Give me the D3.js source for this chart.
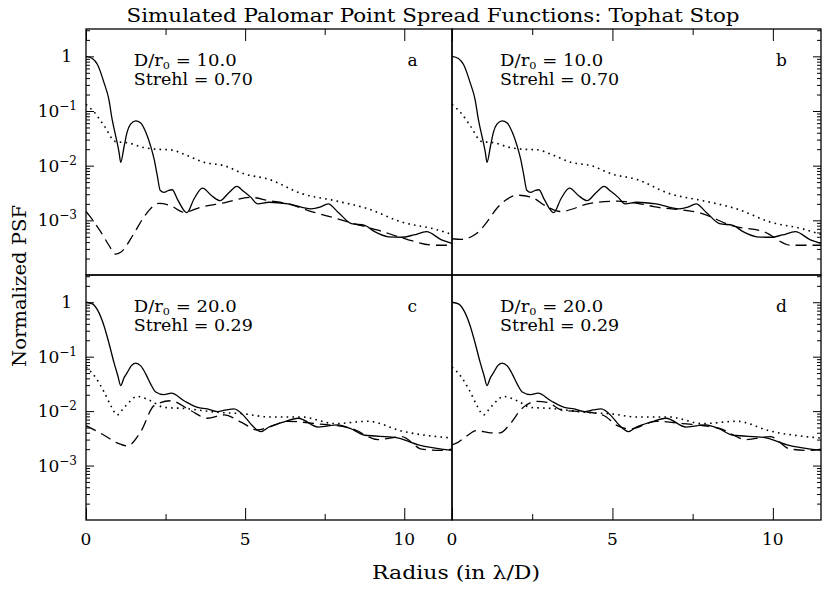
<!DOCTYPE html>
<html>
<head>
<meta charset="utf-8">
<script src="https://cdn.jsdelivr.net/npm/d3@7"></script>
<style>
  body { margin: 0; background: #fff; }
  text { font-family: "DejaVu Serif", serif; fill: #000; }
</style>
</head>
<body>
<svg id="chart" width="825" height="591"></svg>
<script>
// radius in lambda/D, PSF normalised to the diffraction peak
const rSolid10   = [0, 0.2, 0.36, 0.57, 0.72, 0.82, 0.93, 1.04, 1.09, 1.2, 1.29, 1.4, 1.56, 1.72, 1.88, 2.03, 2.14, 2.24, 2.33, 2.45, 2.6, 2.71, 2.87, 3.17, 3.4, 3.66, 3.95, 4.21, 4.48, 4.74, 4.95, 5.18, 5.39, 5.75, 6.35, 7.08, 7.35, 7.61, 7.92, 8.34, 8.76, 9.07, 9.5, 9.92, 10.3, 10.7, 11.17, 11.5];
const psfSolid10 = [1, 0.912, 0.708, 0.324, 0.162, 0.0708, 0.0355, 0.0174, 0.0115, 0.0229, 0.0407, 0.0575, 0.0661, 0.0603, 0.0407, 0.0229, 0.0132, 0.0066, 0.00355, 0.00324, 0.00355, 0.00363, 0.00245, 0.00138, 0.00251, 0.00389, 0.00282, 0.00229, 0.00316, 0.00417, 0.00339, 0.00263, 0.0020, 0.00214, 0.0020, 0.00162, 0.00174, 0.0020, 0.00141, 0.00087, 0.00081, 0.00062, 0.0005, 0.00049, 0.00054, 0.00062, 0.00044, 0.00038];

const rDotted10   = [0, 0.3, 0.57, 0.93, 1.3, 1.82, 2.2, 2.66, 3.08, 3.71, 4.34, 4.97, 5.75, 6.77, 7.82, 8.87, 9.92, 10.96, 11.5];
const psfDotted10 = [0.132, 0.0891, 0.0537, 0.0275, 0.0263, 0.0214, 0.020, 0.0195, 0.0162, 0.0115, 0.010, 0.00708, 0.00562, 0.00309, 0.00229, 0.00162, 0.00093, 0.00069, 0.00055];

const rDashedA   = [0, 0.1, 0.46, 0.72, 0.93, 1.09, 1.51, 1.82, 2.3, 2.66, 3.08, 3.61, 4.34, 5.18, 5.75, 6.35, 7.08, 7.82, 8.55, 9.18, 10.13, 10.96, 11.5];
const psfDashedA = [0.00145, 0.00123, 0.00062, 0.00035, 0.00024, 0.00026, 0.00058, 0.00115, 0.00204, 0.00186, 0.00141, 0.00174, 0.00209, 0.00263, 0.00229, 0.0020, 0.00145, 0.0011, 0.00083, 0.00066, 0.00044, 0.00035, 0.00035];

const rDashedB   = [0, 0.3, 0.6, 0.87, 1.1, 1.4, 1.7, 2.02, 2.44, 2.96, 3.37, 4.31, 5.15, 5.97, 6.29, 7.75, 8.78, 9.72, 10.56, 11.5];
const psfDashedB = [0.00046, 0.00045, 0.0005, 0.00065, 0.00095, 0.00166, 0.0024, 0.00288, 0.00269, 0.00178, 0.00145, 0.00204, 0.00224, 0.00195, 0.00178, 0.00135, 0.00078, 0.00062, 0.00035, 0.00035];

const rSolid20   = [0, 0.2, 0.36, 0.57, 0.72, 0.88, 1.0, 1.09, 1.2, 1.3, 1.42, 1.56, 1.72, 1.88, 2.03, 2.19, 2.45, 2.68, 3.08, 3.5, 3.81, 4.13, 4.4, 4.65, 4.97, 5.2, 5.5, 5.75, 6.2, 6.67, 7.3, 7.92, 8.3, 8.76, 9.71, 10.44, 11.5];
const psfSolid20 = [1, 0.933, 0.724, 0.363, 0.178, 0.0776, 0.0447, 0.0295, 0.0417, 0.0513, 0.0676, 0.0759, 0.0676, 0.0479, 0.0316, 0.0224, 0.020, 0.0214, 0.0155, 0.0117, 0.011, 0.0098, 0.0105, 0.011, 0.0081, 0.0056, 0.0042, 0.0051, 0.0063, 0.0074, 0.0051, 0.0056, 0.0048, 0.0036, 0.0033, 0.0024, 0.0019];

const rDotted20   = [0, 0.3, 0.57, 0.8, 0.98, 1.15, 1.3, 1.61, 2.03, 2.45, 3.08, 4.13, 4.97, 5.75, 6.77, 7.82, 8.87, 9.92, 11.5];
const psfDotted20 = [0.0646, 0.0417, 0.0224, 0.012, 0.0085, 0.0107, 0.0135, 0.0186, 0.0155, 0.0117, 0.0112, 0.0095, 0.0089, 0.0078, 0.0078, 0.0059, 0.0065, 0.0043, 0.0032];

const rDashedC   = [0, 0.57, 0.98, 1.3, 1.72, 2.14, 2.66, 3.29, 3.81, 4.34, 4.87, 5.39, 5.75, 6.35, 7.19, 8.34, 9.18, 9.92, 10.55, 11.17, 11.5];
const psfDashedC = [0.0054, 0.0036, 0.0026, 0.0023, 0.0042, 0.0126, 0.0155, 0.0102, 0.0074, 0.0085, 0.0063, 0.0045, 0.0051, 0.0065, 0.0059, 0.0048, 0.003, 0.0034, 0.002, 0.0019, 0.002];

const rDashedD   = [0, 0.2, 0.46, 0.77, 1.19, 1.5, 1.81, 2.18, 2.65, 2.96, 3.48, 4.1, 4.73, 5.15, 5.56, 6.35, 7.19, 8.34, 9.18, 9.92, 10.55, 11.17, 11.5];
const psfDashedD = [0.0024, 0.0027, 0.0035, 0.0044, 0.004, 0.004, 0.0058, 0.0112, 0.0151, 0.0145, 0.0102, 0.0098, 0.0083, 0.0054, 0.0047, 0.0065, 0.0059, 0.0048, 0.003, 0.0034, 0.002, 0.0019, 0.002];

const radiusDomain = [0, 11.5];
const psfDomain = [1e-4, Math.pow(10, 0.5)];
const xMajor = [0, 5, 10];
const xMinor = [2.5, 7.5];
const yMajor = [1e-3, 1e-2, 1e-1, 1];

const zip = (xs, ys) => xs.map((x, i) => [x, ys[i]]);

class PsfPanel {

  constructor( config, series ) {
    this.config = {
      parent: config.parent,
      id: config.id,
      x0: config.x0, x1: config.x1,
      y0: config.y0, y1: config.y1,
      side: config.side,
      row: config.row,
      letter: config.letter,
      ratio: config.ratio,
      strehl: config.strehl
    };
    this.series = series;
    this.init();
  }

  init() {
    let self = this;
    let c = self.config;

    self.svg = d3.select( c.parent );

    self.xscale = d3.scaleLinear()
      .domain( radiusDomain )
      .range( [c.x0, c.x1] );

    self.yscale = d3.scaleLog()
      .domain( psfDomain )
      .range( [c.y1, c.y0] );

    self.svg.append('clipPath')
      .attr('id', 'clip-' + c.id)
      .append('rect')
      .attr('x', c.x0).attr('y', c.y0)
      .attr('width', c.x1 - c.x0).attr('height', c.y1 - c.y0);

    self.chart = self.svg.append('g');

    self.line = d3.line()
      .x(d => self.xscale(d[0]))
      .y(d => self.yscale(d[1]))
      .curve(d3.curveMonotoneX);
  }

  render() {
    let self = this;
    let c = self.config;

    // curves
    self.chart.append('g')
      .attr('clip-path', `url(#clip-${c.id})`)
      .selectAll('path')
      .data(self.series)
      .join('path')
      .attr('d', d => self.line(d.points))
      .attr('fill', 'none')
      .attr('stroke', 'black')
      .attr('stroke-width', d => d.style == 'dotted' ? 1.6 : 1.3)
      .attr('stroke-dasharray', d => d.style == 'dashed' ? '11,6' : d.style == 'dotted' ? '1.6,4.2' : null);

    // ticks on the outer edges only
    const tickAxis = (axis, values, size, tx, ty) => {
      self.chart.append('g')
        .attr('transform', `translate(${tx},${ty})`)
        .call(axis.tickValues(values).tickSize(size).tickSizeOuter(0).tickFormat(''))
        .call(g => g.select('.domain').remove())
        .selectAll('line').attr('stroke', 'black').attr('stroke-width', 1);
    };

    let yMinor = [];
    for (let k = -4; k <= 0; k++)
      for (let m = 2; m <= 9; m++) {
        let v = m * Math.pow(10, k);
        if (v < psfDomain[1]) yMinor.push(v);
      }

    if (c.side == 'left') {
      tickAxis(d3.axisRight(self.yscale), yMajor, 8, c.x0, 0);
      tickAxis(d3.axisRight(self.yscale), yMinor, 4, c.x0, 0);
    } else {
      tickAxis(d3.axisLeft(self.yscale), yMajor, 8, c.x1, 0);
      tickAxis(d3.axisLeft(self.yscale), yMinor, 4, c.x1, 0);
    }
    if (c.row == 'top') {
      tickAxis(d3.axisBottom(self.xscale), xMajor, 12, 0, c.y0);
      tickAxis(d3.axisBottom(self.xscale), xMinor, 6, 0, c.y0);
    } else {
      tickAxis(d3.axisTop(self.xscale), xMajor, 12, 0, c.y1);
      tickAxis(d3.axisTop(self.xscale), xMinor, 6, 0, c.y1);
    }

    // frame
    self.chart.append('rect')
      .attr('x', c.x0).attr('y', c.y0)
      .attr('width', c.x1 - c.x0).attr('height', c.y1 - c.y0)
      .attr('fill', 'none')
      .attr('stroke', 'black')
      .attr('stroke-width', 1.3);

    // y tick labels: 1, 10^-1, 10^-2, 10^-3
    if (c.side == 'left') {
      self.chart.append('g')
        .selectAll('text')
        .data(yMajor)
        .join('text')
        .attr('x', d => d == 1 ? c.x0 - 14 : c.x0 - 9)
        .attr('y', d => self.yscale(d) + 6)
        .attr('text-anchor', 'end')
        .attr('font-size', '17px')
        .each(function(d) {
          let t = d3.select(this);
          if (d == 1) { t.text('1'); return; }
          t.append('tspan').text('10');
          t.append('tspan').attr('dy', -7).attr('font-size', '12px')
            .text('−' + (-Math.round(Math.log10(d))));
        });
    }

    // x tick labels
    if (c.row == 'bottom') {
      self.chart.append('g')
        .selectAll('text')
        .data(xMajor)
        .join('text')
        .attr('x', d => self.xscale(d))
        .attr('y', c.y1 + 25)
        .attr('text-anchor', 'middle')
        .attr('font-size', '17px')
        .text(d => d);
    }

    // annotation
    let ann = self.chart.append('g');
    let l1 = ann.append('text')
      .attr('x', self.xscale(1.5))
      .attr('y', c.y0 + 37)
      .attr('font-size', '16px')
      .attr('textLength', 103)
      .attr('lengthAdjust', 'spacingAndGlyphs');
    l1.append('tspan').text('D/r');
    l1.append('tspan').attr('dy', 3).attr('font-size', '10px').text('0');
    l1.append('tspan').attr('dy', -3).text(' = ' + c.ratio);

    ann.append('text')
      .attr('x', self.xscale(1.5))
      .attr('y', c.y0 + 56)
      .attr('font-size', '16px')
      .attr('textLength', 119)
      .attr('lengthAdjust', 'spacingAndGlyphs')
      .text('Strehl = ' + c.strehl);

    ann.append('text')
      .attr('x', self.xscale(10.1))
      .attr('y', c.y0 + 37)
      .attr('font-size', '17px')
      .text(c.letter);
  }
}

const svg = d3.select('#chart');
const xLeft = 86, xMid = 452, xRight = 821;
const yTop = 29, yMid = 275, yBottom = 520;

const solid10 = zip(rSolid10, psfSolid10);
const dotted10 = zip(rDotted10, psfDotted10);
const solid20 = zip(rSolid20, psfSolid20);
const dotted20 = zip(rDotted20, psfDotted20);

const panels = [
  new PsfPanel({parent: '#chart', id: 'a', x0: xLeft, x1: xMid, y0: yTop, y1: yMid, side: 'left', row: 'top', letter: 'a', ratio: '10.0', strehl: '0.70'},
    [{style: 'solid', points: solid10}, {style: 'dotted', points: dotted10}, {style: 'dashed', points: zip(rDashedA, psfDashedA)}]),
  new PsfPanel({parent: '#chart', id: 'b', x0: xMid, x1: xRight, y0: yTop, y1: yMid, side: 'right', row: 'top', letter: 'b', ratio: '10.0', strehl: '0.70'},
    [{style: 'solid', points: solid10}, {style: 'dotted', points: dotted10}, {style: 'dashed', points: zip(rDashedB, psfDashedB)}]),
  new PsfPanel({parent: '#chart', id: 'c', x0: xLeft, x1: xMid, y0: yMid, y1: yBottom, side: 'left', row: 'bottom', letter: 'c', ratio: '20.0', strehl: '0.29'},
    [{style: 'solid', points: solid20}, {style: 'dotted', points: dotted20}, {style: 'dashed', points: zip(rDashedC, psfDashedC)}]),
  new PsfPanel({parent: '#chart', id: 'd', x0: xMid, x1: xRight, y0: yMid, y1: yBottom, side: 'right', row: 'bottom', letter: 'd', ratio: '20.0', strehl: '0.29'},
    [{style: 'solid', points: solid20}, {style: 'dotted', points: dotted20}, {style: 'dashed', points: zip(rDashedD, psfDashedD)}])
];
panels.forEach(p => p.render());

svg.append('text')
  .attr('x', 433)
  .attr('y', 22)
  .attr('text-anchor', 'middle')
  .attr('font-size', '18px')
  .attr('textLength', 613)
  .attr('lengthAdjust', 'spacingAndGlyphs')
  .text('Simulated Palomar Point Spread Functions: Tophat Stop');

svg.append('text')
  .attr('x', 456)
  .attr('y', 579)
  .attr('text-anchor', 'middle')
  .attr('font-size', '18px')
  .attr('textLength', 168)
  .attr('lengthAdjust', 'spacingAndGlyphs')
  .text('Radius (in λ/D)');

svg.append('text')
  .attr('transform', 'translate(26,286) rotate(-90)')
  .attr('text-anchor', 'middle')
  .attr('font-size', '18px')
  .attr('textLength', 162)
  .attr('lengthAdjust', 'spacingAndGlyphs')
  .text('Normalized PSF');
</script>
</body>
</html>
